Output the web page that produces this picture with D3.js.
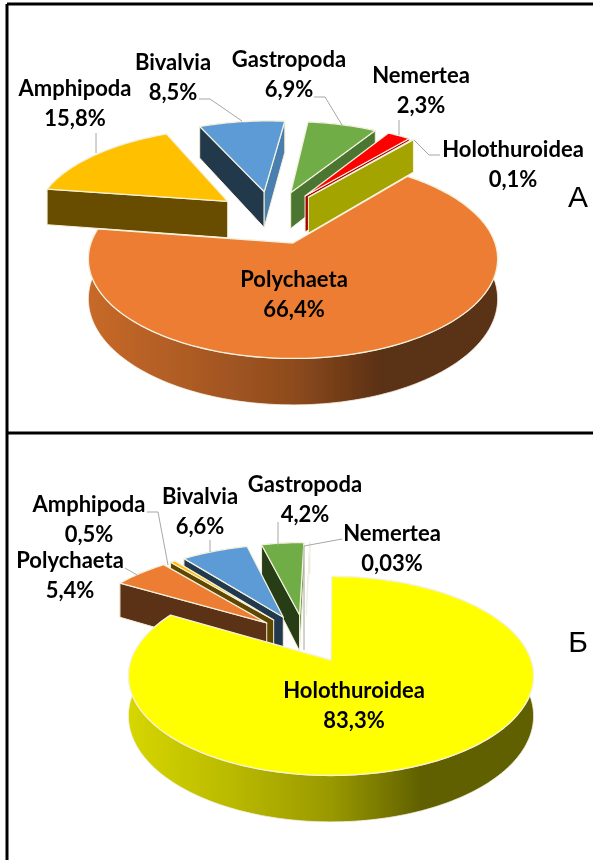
<!DOCTYPE html>
<html>
<head>
<meta charset="utf-8">
<script src="https://cdnjs.cloudflare.com/ajax/libs/d3/7.8.5/d3.min.js"></script>
<style>
  html, body { margin: 0; padding: 0; background: #fff; }
  text { font-family: Lato, "Open Sans", sans-serif; font-weight: 700; fill: #000; text-anchor: middle; }
</style>
</head>
<body>
<div id="chart"></div>
<script>
// Data
const taxa = ["Polychaeta", "Amphipoda", "Bivalvia", "Gastropoda", "Nemertea", "Holothuroidea"];
const valuesA = [66.4, 15.8, 8.5, 6.9, 2.3, 0.1];
const valuesB = [5.4, 0.5, 6.6, 4.2, 0.03, 83.3];
const taxaColors = ["#ED7D31", "#FFC000", "#5B9BD5", "#70AD47", "#FF0000", "#FFFF00"];

// Chart dimensions
const width = 593;
const height = 860;

// Pie geometry, fitted to the picture (angles in degrees from north, clockwise)
const ellipseHeight = 97; // radius * tilt
const perspective = 0.16;
const depth = 39;

const panels = [
    {
        letter: "А", letterPos: [578, 207], values: valuesA, startDeg: 39.5, apex: [293, 243],
        radius: 202, explode: 0.3,
        labels: {
            Polychaeta: [294, 287], Amphipoda: [75, 96], Bivalvia: [173, 70],
            Gastropoda: [289, 67], Nemertea: [421, 83], Holothuroidea: [513, 157]
        },
        leaders: [
            [[96, 133], [96, 153]],
            [[199, 99], [210, 99], [242, 121]],
            [[314, 97], [325, 97], [342, 125]],
            [[399, 120], [399, 135]],
            [[440, 155], [429, 155], [414, 140]]
        ]
    },
    {
        letter: "Б", letterPos: [578, 652], values: valuesB, startDeg: 300, apex: [331, 660],
        radius: 200, explode: 0.27,
        labels: {
            Holothuroidea: [354, 698], Polychaeta: [70, 568], Amphipoda: [89, 512],
            Bivalvia: [200, 504], Gastropoda: [305, 492], Nemertea: [392, 541]
        },
        leaders: [
            [[147, 512], [158, 512], [168, 565]],
            [[210, 540], [210, 552]],
            [[278, 522], [278, 546]],
            [[342, 539], [304, 546], [304, 650]],
            [[125, 568], [137, 575]]
        ]
    }
];

const svg = d3.select("#chart")
    .append("svg")
    .attr("width", width)
    .attr("height", height);

const defs = svg.append("defs");
defs.append("filter").attr("id", "soft")
    .append("feGaussianBlur").attr("stdDeviation", 0.45);
svg.append("rect").attr("width", width).attr("height", height).attr("fill", "#fff");

const toRad = d => d * Math.PI / 180;
const line = d3.line();

// Shade of a cut wall from the compass direction it faces
const wallShade = d3.scaleLinear()
    .domain([0, 90, 125, 190, 250, 360])
    .range([0.3, 0.85, 0.66, 0.4, 0.35, 0.3]);

const shaded = (color, k) => {
    const c = d3.rgb(color);
    return d3.rgb(c.r * k, c.g * k, c.b * k).formatHex();
};

panels.forEach((panel, p) => {
    const explode = panel.explode;
    const pie = d3.pie().sort(null)
        .startAngle(toRad(panel.startDeg))
        .endAngle(toRad(panel.startDeg) + 2 * Math.PI);
    const slices = pie(panel.values).map((d, i) => ({
        ...d, name: taxa[i], color: taxaColors[i], mid: (d.startAngle + d.endAngle) / 2
    }));

    // True pie centre sits behind the largest slice's tip
    const big = slices.reduce((a, b) => (b.value > a.value ? b : a));
    const cu = -explode * Math.sin(big.mid);
    const cv = -explode * Math.cos(big.mid);

    const project = (u, v, low) => {
        const s = 1 / (1 + perspective * v);
        return [
            panel.apex[0] + panel.radius * u * s,
            panel.apex[1] - ellipseHeight * v * s + (low ? depth * s : 0)
        ];
    };

    const g = svg.append("g").attr("filter", "url(#soft)");
    const order = slices.slice().sort((a, b) => Math.cos(b.mid) - Math.cos(a.mid));

    order.forEach((d, i) => {
        const tipU = cu + explode * Math.sin(d.mid);
        const tipV = cv + explode * Math.cos(d.mid);
        const n = Math.max(2, Math.ceil((d.endAngle - d.startAngle) * 40));
        const rim = d3.range(n + 1).map(k => {
            const a = d.startAngle + (d.endAngle - d.startAngle) * k / n;
            return [tipU + Math.sin(a), tipV + Math.cos(a)];
        });
        const top = rim.map(q => project(q[0], q[1], false));
        const bottom = rim.map(q => project(q[0], q[1], true));
        const tipTop = project(tipU, tipV, false);
        const tipLow = project(tipU, tipV, true);

        // Outer curved wall, with a left to right shading
        const gradId = `wall${p}${i}`;
        const grad = defs.append("linearGradient").attr("id", gradId)
            .attr("gradientUnits", "userSpaceOnUse")
            .attr("x1", d3.min(top, q => q[0])).attr("x2", d3.max(top, q => q[0]))
            .attr("y1", 0).attr("y2", 0);
        [[0, 0.84], [0.25, 0.73], [0.5, 0.6], [0.72, 0.38], [1, 0.38]].forEach(s => {
            grad.append("stop").attr("offset", s[0]).attr("stop-color", shaded(d.color, s[1]));
        });
        g.append("path")
            .attr("d", line(top.concat(bottom.slice().reverse())) + "Z")
            .attr("fill", `url(#${gradId})`)
            .attr("stroke", "#f6f0e6").attr("stroke-width", 0.8);

        // Cut walls, only the ones that face the viewer
        // (a hairline slice like 0,03% shows no wall in the picture)
        const walls = d.value < 0.05 ? [] : [
            { quad: [tipTop, top[0], bottom[0], tipLow], facing: d.startAngle - Math.PI / 2 },
            { quad: [top[n], tipTop, tipLow, bottom[n]], facing: d.endAngle + Math.PI / 2 }
        ];
        walls.forEach(w => {
            if (d3.polygonArea(w.quad) <= 0) return;
            const bearing = ((w.facing * 180 / Math.PI) % 360 + 360) % 360;
            g.append("path")
                .attr("d", line(w.quad) + "Z")
                .attr("fill", shaded(d.color, wallShade(bearing)))
                .attr("stroke", "#f6f0d8").attr("stroke-width", 1)
                .attr("stroke-linejoin", "round");
        });

        // Top face
        g.append("path")
            .attr("d", line([tipTop].concat(top)) + "Z")
            .attr("fill", d.color)
            .attr("stroke", "#f4f1df").attr("stroke-width", 1.3)
            .attr("stroke-linejoin", "round");
    });

    // Leader lines
    g.selectAll("path.leader")
        .data(panel.leaders)
        .enter()
        .append("path")
        .attr("class", "leader")
        .attr("d", d => line(d))
        .attr("fill", "none")
        .attr("stroke", "#a6a6a6")
        .attr("stroke-width", 1);

    // Labels: name above, value below
    slices.forEach(d => {
        const pos = panel.labels[d.name];
        g.append("text")
            .attr("x", pos[0]).attr("y", pos[1])
            .style("font-size", "22px")
            .text(d.name);
        g.append("text")
            .attr("x", pos[0]).attr("y", pos[1] + 30)
            .style("font-size", "22px")
            .text(String(d.value).replace(".", ",") + "%");
    });

    g.append("text")
        .attr("x", panel.letterPos[0]).attr("y", panel.letterPos[1])
        .style("font-family", "'Liberation Sans', sans-serif")
        .style("font-weight", 400)
        .style("font-size", "30px")
        .text(panel.letter);
});

// Frame lines
const frame = [
    [[7, 4], [width, 4]],
    [[7, 4], [7, height]],
    [[7, 433], [width, 433]]
];
svg.selectAll("path.frame")
    .data(frame)
    .enter()
    .append("path")
    .attr("class", "frame")
    .attr("d", d => line(d))
    .attr("fill", "none")
    .attr("stroke", "#000")
    .attr("stroke-width", 3);
</script>
</body>
</html>
